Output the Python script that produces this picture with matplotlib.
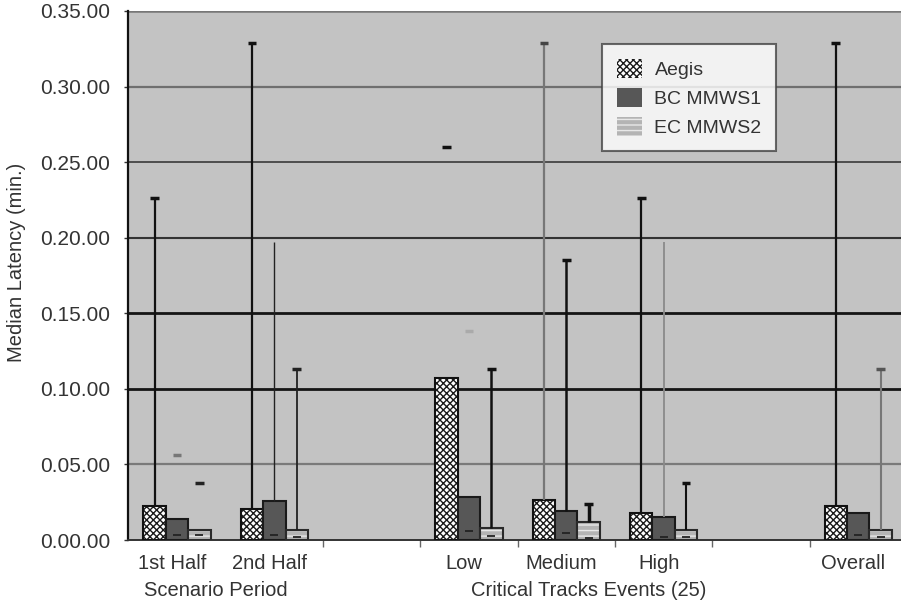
import numpy as np
import matplotlib
matplotlib.use("Agg")
import matplotlib.pyplot as plt
from matplotlib.patches import Patch

plt.rcParams['font.family'] = ['Liberation Sans', 'DejaVu Sans']
plt.rcParams['hatch.linewidth'] = 1.0

nan = np.nan
categories = ["1st Half", "2nd Half", "", "Low", "Medium", "High", "", "Overall"]
series_names = ["Aegis", "BC MMWS1", "EC MMWS2"]
aegis = [0.0222, 0.0203, nan, 0.1074, 0.0265, 0.0176, nan, 0.0225]
bc_mmws1 = [0.0141, 0.0256, nan, 0.0282, 0.0192, 0.0154, nan, 0.0176]
ec_mmws2 = [0.0064, 0.0067, nan, 0.0077, 0.0121, 0.0066, nan, 0.0066]

aegis_hi = [0.226, 0.329, nan, 0.260, 0.329, 0.226, nan, 0.329]
bc_hi = [0.056, 0.197, nan, 0.138, 0.185, 0.197, nan, nan]
ec_hi = [0.038, 0.113, nan, 0.113, 0.024, 0.038, nan, 0.113]
aegis_lo = [nan, nan, nan, nan, nan, nan, nan, nan]
bc_lo = [0.003, 0.003, nan, 0.006, 0.0045, 0.002, nan, 0.003]
ec_lo = [0.003, 0.002, nan, 0.0026, 0.001, 0.002, nan, 0.002]

group_labels = ["Scenario Period", "Critical Tracks Events (25)"]
group_pos = [0.40, 4.23]
yticks = [0.00, 0.05, 0.10, 0.15, 0.20, 0.25, 0.30, 0.35]
ytick_labels = ["0.00.00", "0.05.00", "0.10.00", "0.15.00", "0.20.00", "0.25.00", "0.30.00", "0.35.00"]

# styles
line_colors = [
    ['#111', '#111', None, None, '#777', '#111', None, '#111'],
    [None, '#222', None, None, '#111', '#8a8a8a', None, None],
    [None, '#222', None, '#111', '#111', '#111', None, '#777'],
]
cap_colors = [
    ['#111', '#111', None, '#111', '#444', '#111', None, '#111'],
    ['#777', None, None, '#aaa', '#111', None, None, None],
    ['#222', '#222', None, '#111', '#111', '#111', None, '#555'],
]
line_widths = [
    [1.6, 1.6, 0, 0, 1.6, 1.6, 0, 1.6],
    [0, 1.0, 0, 0, 1.8, 1.3, 0, 0],
    [0, 1.3, 0, 1.8, 2.5, 1.5, 0, 1.5],
]

fig = plt.figure(figsize=(9.01, 6.01), dpi=100)
ax = fig.add_axes([128.4 / 901, 1 - 540 / 601, 1 - 128.4 / 901, 529 / 601])
ax.set_facecolor('#c3c3c3')
ax.set_xlim(-0.5, 7.44)
ax.set_ylim(0, 0.35)

# gridlines
grid_styles = {0.05: ('#7a7a7a', 1.6), 0.10: ('#151515', 2.0), 0.15: ('#151515', 2.0),
               0.20: ('#333333', 1.5), 0.25: ('#3a3a3a', 1.2), 0.30: ('#6f6f6f', 1.6)}
for yv, (c, lw) in grid_styles.items():
    ax.axhline(yv, color=c, lw=lw, zorder=1)

x = np.arange(len(categories))
w = 0.23
offsets = [-w, 0, w]
data = [aegis, bc_mmws1, ec_mmws2]
his = [aegis_hi, bc_hi, ec_hi]
los = [aegis_lo, bc_lo, ec_lo]

face = ['white', '#575757', '#b4b4b4']
hatches = ['xxxxx', None, '---']
hatch_cols = ['#1a1a1a', None, '#e8e8e8']
edges = ['#111111', '#1a1a1a', '#2a2a2a']

for s in range(3):
    vals = np.array(data[s], dtype=float)
    b = ax.bar(x + offsets[s], vals, width=w, color=face[s], edgecolor=edges[s],
               linewidth=1.5, zorder=3)
    for r in b:
        if hatches[s]:
            r.set_hatch(hatches[s])
            r._hatch_color = matplotlib.colors.to_rgba(hatch_cols[s])

cw = 0.045
for s in range(3):
    for i in range(len(categories)):
        xi = x[i] + offsets[s]
        top = data[s][i]
        hi = his[s][i]
        lo = los[s][i]
        if not np.isnan(hi):
            lc = line_colors[s][i]
            if lc is not None and line_widths[s][i] > 0:
                ax.vlines(xi, top, hi, colors=lc, lw=line_widths[s][i], zorder=4)
            cc = cap_colors[s][i]
            if cc is not None:
                ax.hlines(hi, xi - cw, xi + cw, colors=cc, lw=2.5, zorder=4)
        if not np.isnan(lo):
            ax.hlines(lo, xi - cw * 0.9, xi + cw * 0.9, colors='#222', lw=1.3, zorder=5)

# axes styling
for sp in ['top', 'right']:
    ax.spines[sp].set_visible(False)
ax.axhline(0.35, color='#777777', lw=1.8, zorder=2)
ax.spines['left'].set_color('#111111')
ax.spines['left'].set_linewidth(1.6)
ax.spines['bottom'].set_color('#333333')
ax.spines['bottom'].set_linewidth(1.4)

ax.set_yticks(yticks)
ax.set_yticklabels(ytick_labels, fontsize=15, color='#333333')
ax.tick_params(axis='y', length=3, width=1, color='#333', pad=10)

ax.set_xticks([1.5, 2.5, 3.5, 4.5, 5.5, 6.5])
ax.set_xticklabels([])
ax.tick_params(axis='x', length=5, width=1, color='#666')

for i, c in enumerate(categories):
    if c:
        ax.text(x[i] - 0.05, -0.0155, c, ha='center', va='center', fontsize=14.5,
                color='#333333', clip_on=False)
for lab, gp in zip(group_labels, group_pos):
    ax.text(gp, -0.0335, lab, ha='center', va='center', fontsize=14.5,
            color='#333333', clip_on=False)

fig.text(17 / 901, 1 - 262 / 601, "Median Latency (min.)", rotation=90,
         ha='center', va='center', fontsize=14.5, color='#333333')

handles = []
for s in range(3):
    hc = hatch_cols[s] if hatches[s] else face[s]
    p = Patch(facecolor=face[s], edgecolor=hc, linewidth=0, hatch=hatches[s],
              label=series_names[s])
    handles.append(p)
leg = fig.legend(handles=handles, loc='upper left', bbox_to_anchor=(602 / 901, 1 - 44 / 601),
                 fontsize=14, frameon=True, fancybox=False, borderpad=0.75,
                 handlelength=1.3, handleheight=1.15, handletextpad=0.65,
                 labelspacing=0.45, borderaxespad=0)
leg.get_frame().set_edgecolor('#444444')
leg.get_frame().set_linewidth(1.5)
leg.get_frame().set_facecolor('white')
for t in leg.get_texts():
    t.set_color('#333333')

fig.savefig('out.png', dpi=100)
